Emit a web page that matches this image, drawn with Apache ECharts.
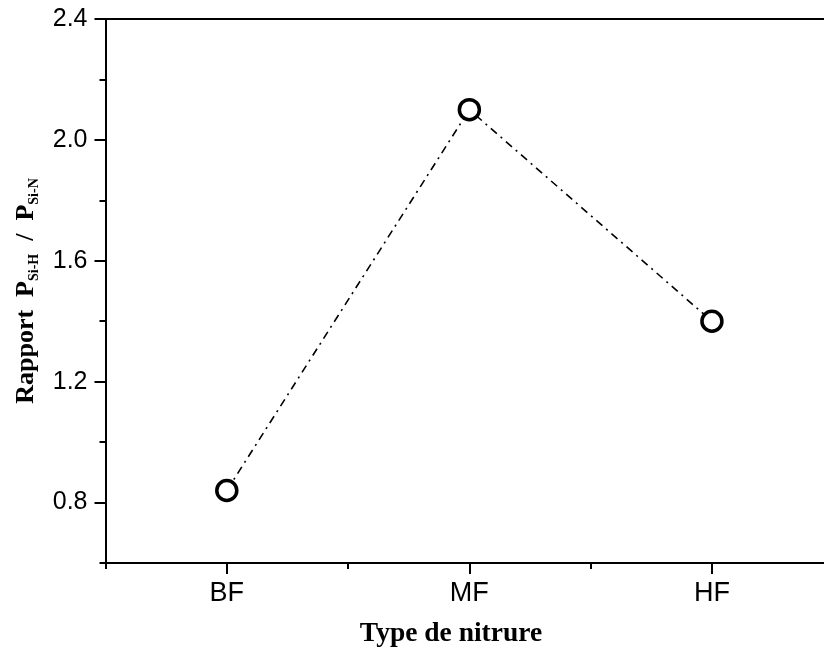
<!DOCTYPE html>
<html><head><meta charset="utf-8">
<script src="https://cdn.jsdelivr.net/npm/echarts@6/dist/echarts.min.js"></script>
<style>html,body{margin:0;padding:0;background:#fff}#c{width:824px;height:653px}</style>
</head><body><div id="c"></div>
<script>
const categories = ['BF', 'MF', 'HF'];
const ratios = [0.84, 2.10, 1.40];
const yMajorTicks = [0.8, 1.2, 1.6, 2.0, 2.4];
const yMinorTicks = [0.6, 1.0, 1.4, 1.8, 2.2];
const xMajorTicks = [1, 2, 3];
const xMinorTicks = [0.5, 1.5, 2.5];

const chart = echarts.init(document.getElementById('c'), null, {renderer: 'canvas'});
const axisLine = {show: true, lineStyle: {color: '#000', width: 2}};
const sans = 'Liberation Sans';
const serif = 'Liberation Serif';
const xMin = 0.5, xMax = 3.462;

const option = {
  animation: false,
  backgroundColor: '#fff',
  grid: {left: 105.5, top: 19, right: 0, bottom: 90, containLabel: false},
  xAxis: [
    {type: 'value', position: 'bottom', min: xMin, max: xMax,
     axisLine: axisLine, splitLine: {show: false},
     axisTick: {show: true, inside: false, length: 11, lineStyle: {color: '#000', width: 2}, customValues: xMajorTicks},
     axisLabel: {show: true, margin: 17, fontFamily: sans, fontSize: 27, color: '#000',
       customValues: xMajorTicks, formatter: v => categories[Math.round(v) - 1] || ''}},
    {type: 'value', position: 'bottom', min: xMin, max: xMax,
     axisLine: {show: false}, splitLine: {show: false}, axisLabel: {show: false},
     axisTick: {show: true, inside: false, length: 6, lineStyle: {color: '#000', width: 2}, customValues: xMinorTicks}},
    {type: 'value', position: 'top', min: xMin, max: xMax,
     axisLine: axisLine, splitLine: {show: false}, axisLabel: {show: false}, axisTick: {show: false}}
  ],
  yAxis: [
    {type: 'value', position: 'left', min: 0.6, max: 2.4,
     axisLine: axisLine, splitLine: {show: false},
     axisTick: {show: true, inside: false, length: 11, lineStyle: {color: '#000', width: 2}, customValues: yMajorTicks},
     axisLabel: {show: true, margin: 18, fontFamily: sans, fontSize: 25, color: '#000',
       customValues: yMajorTicks, formatter: v => v.toFixed(1)},
     name: '{a|Rapport  P}{s|Si-H}{a|  /  P}{s|Si-N}',
     nameLocation: 'middle', nameGap: 64, nameRotate: 90,
     nameTextStyle: {
       rich: {
         a: {fontFamily: serif, fontWeight: 'bold', fontSize: 26, color: '#000', lineHeight: 30},
         s: {fontFamily: serif, fontWeight: 'bold', fontSize: 14, color: '#000', verticalAlign: 'bottom', lineHeight: 30, padding: [14, 0, 0, 0]}
       }
     }},
    {type: 'value', position: 'left', min: 0.6, max: 2.4,
     axisLine: {show: false}, splitLine: {show: false}, axisLabel: {show: false},
     axisTick: {show: true, inside: false, length: 6, lineStyle: {color: '#000', width: 2}, customValues: yMinorTicks}}
  ],
  graphic: [
    {type: 'text', x: 451, y: 634,
     style: {text: 'Type de nitrure', fontFamily: serif, fontWeight: 'bold', fontSize: 27.5, fill: '#000',
       textAlign: 'center', textVerticalAlign: 'middle'}}
  ],
  series: [{
    type: 'line', xAxisIndex: 0, yAxisIndex: 0,
    data: ratios.map((v, i) => [i + 1, v]),
    symbol: 'circle', symbolSize: 20, showSymbol: true,
    lineStyle: {color: '#000', width: 1.6, type: [8, 5, 2, 5]},
    itemStyle: {color: '#fff', borderColor: '#000', borderWidth: 3.5},
    z: 5
  }]
};
chart.setOption(option);
</script></body></html>
